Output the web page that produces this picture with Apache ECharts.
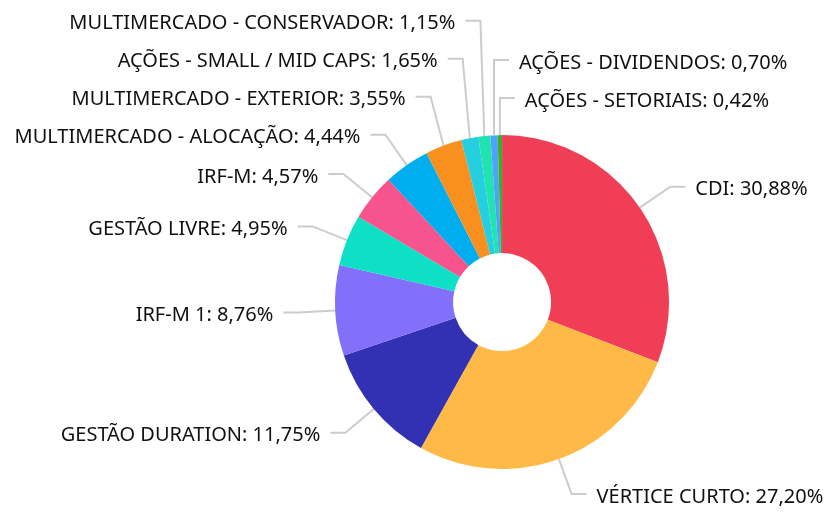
<!DOCTYPE html>
<html>
<head>
<meta charset="utf-8">
<script src="https://cdn.jsdelivr.net/npm/echarts@6/dist/echarts.min.js"></script>
<style>
  html, body { margin: 0; padding: 0; background: #fff; }
  #main { width: 834px; height: 512px; }
</style>
</head>
<body>
<div id="main"></div>
<script>
// fatias em ordem horaria a partir do topo
var categories = [
  'CDI',
  'VÉRTICE CURTO',
  'GESTÃO DURATION',
  'IRF-M 1',
  'GESTÃO LIVRE',
  'IRF-M',
  'MULTIMERCADO - ALOCAÇÃO',
  'MULTIMERCADO - EXTERIOR',
  'AÇÕES - SMALL / MID CAPS',
  'MULTIMERCADO - CONSERVADOR',
  'AÇÕES - DIVIDENDOS',
  'AÇÕES - SETORIAIS'
];
var values = [30.88, 27.20, 11.75, 8.76, 4.95, 4.57, 4.44, 3.55, 1.65, 1.15, 0.70, 0.42];
var colors = [
  '#ef3e55', '#ffb946', '#3331b3', '#8270fa', '#0ee0c6', '#f7538c',
  '#00aeef', '#f7901e', '#26cfe0', '#20e3b0', '#4da3f7', '#3dae2b'
];
// rotulos que vao para a direita mesmo estando logo a esquerda do topo
var rightTop = ['AÇÕES - DIVIDENDOS', 'AÇÕES - SETORIAIS'];

var dom = document.getElementById('main');
var myChart = echarts.init(dom);

var CENTER = [0.602, 0.59];
var R_IN = 49, R_OUT = 167;
var LEN1 = 37, LEN2 = 15, GAP = 38;

// posicao dos rotulos (estilo "empurra pra cima" quando encostam)
var cx = dom.clientWidth * CENTER[0];
var cy = dom.clientHeight * CENTER[1];
var total = values.reduce(function (a, b) { return a + b; }, 0);
var acc = 0;
var lay = values.map(function (v, i) {
  var mid = (acc + v / 2) / total * 2 * Math.PI;
  acc += v;
  var s = Math.sin(mid), c = Math.cos(mid);
  var x0 = cx + R_OUT * s, y0 = cy - R_OUT * c;
  var forced = rightTop.indexOf(categories[i]) >= 0;
  return {
    i: i,
    ang: forced ? mid - 2 * Math.PI : mid,
    right: forced || s >= 0,
    forced: forced,
    x0: x0, y0: y0,
    x1: forced ? x0 : x0 + LEN1 * s,
    y: y0 - LEN1 * c
  };
});
function stack(list) {
  for (var k = list.length - 2; k >= 0; k--) {
    list[k].y = Math.min(list[k].y, list[k + 1].y - GAP);
  }
}
var rightSide = lay.filter(function (d) { return d.right; })
  .sort(function (a, b) { return a.ang - b.ang; });
var leftSide = lay.filter(function (d) { return !d.right; })
  .sort(function (a, b) { return b.ang - a.ang; });
stack(rightSide.filter(function (d) { return d.ang < Math.PI / 2; }));
stack(leftSide.filter(function (d) { return d.ang > 3 * Math.PI / 2 - 0.6; }));

var data = categories.map(function (name, i) {
  return { name: name, value: values[i], itemStyle: { color: colors[i] } };
});

var option = {
  animation: false,
  series: [
    {
      type: 'pie',
      center: [CENTER[0] * 100 + '%', CENTER[1] * 100 + '%'],
      radius: [R_IN, R_OUT],
      startAngle: 90,
      data: data,
      label: {
        formatter: function (p) {
          return p.name + ': ' + p.value.toFixed(2).replace('.', ',') + '%';
        },
        fontFamily: 'Noto Sans',
        fontSize: 20,
        color: '#111',
        padding: [0, 5],
        width: 560,
        overflow: 'none'
      },
      labelLine: {
        show: true,
        length: LEN1,
        length2: LEN2,
        lineStyle: { color: '#cccccc', width: 2 }
      },
      labelLayout: function (params) {
        var d = lay[params.dataIndex];
        var dir = d.right ? 1 : -1;
        var x2 = d.x1 + dir * LEN2;
        return {
          x: x2 + dir * 5,
          y: d.y + 3,
          align: d.right ? 'left' : 'right',
          verticalAlign: 'middle',
          labelLinePoints: [[d.x0, d.y0], [d.x1, d.y], [x2, d.y]]
        };
      }
    }
  ]
};

myChart.setOption(option);
</script>
</body>
</html>
